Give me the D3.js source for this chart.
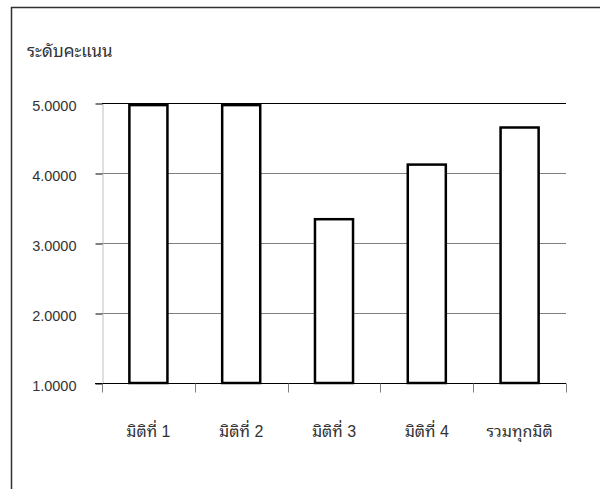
<!DOCTYPE html>
<html><head><meta charset="utf-8">
<script src="https://cdn.jsdelivr.net/npm/d3@7"></script>
<style>
html,body{margin:0;padding:0;background:#fff;}
svg{display:block;font-family:"Liberation Sans",Arial,"Noto Sans Thai Looped","Noto Sans Thai",Loma,Garuda,sans-serif;}
</style></head>
<body>
<svg id="chart" width="600" height="489"></svg>
<script>
const categories = ["มิติที่ 1", "มิติที่ 2", "มิติที่ 3", "มิติที่ 4", "รวมทุกมิติ"];
const scores = [4.97, 4.97, 3.34, 4.12, 4.65];
const yTicks = [1, 2, 3, 4, 5];
const yTitle = "ระดับคะแนน";

(function () {
const svg = d3.select("#chart");
const mLeft = 102, mRight = 566, mTop = 103, mBottom = 383;

// outer border
svg.append("rect").attr("x", 11.5).attr("y", 7.5).attr("width", 640).attr("height", 520)
  .attr("fill", "none").attr("stroke", "#303030").attr("stroke-width", 1.5);

const x = d3.scaleBand().domain(categories).range([mLeft, mRight])
  .paddingInner(0.59).paddingOuter(0.295);
const xb = d3.scaleBand().domain(categories).range([mLeft, mRight]).padding(0);
const y = d3.scaleLinear().domain([1, 5]).range([mBottom, mTop]);

// gridlines
svg.append("g").selectAll("line").data(yTicks.filter(t => t > 1)).join("line")
  .attr("x1", mLeft).attr("x2", mRight)
  .attr("y1", d => Math.round(y(d)) + 0.5).attr("y2", d => Math.round(y(d)) + 0.5)
  .attr("stroke", d => d === 5 ? "#000" : "#7f7f7f").attr("stroke-width", 1);

// y axis
const yAxis = svg.append("g").attr("transform", `translate(${mLeft + 0.5},0.5)`)
  .call(d3.axisLeft(y).tickValues(yTicks).tickFormat(d3.format(".4f")).tickSize(7).tickSizeOuter(0));
yAxis.attr("font-family", null).attr("font-size", null);
yAxis.select(".domain").attr("stroke", "#c0c0c0");
yAxis.selectAll(".tick line").attr("stroke", "#000");
yAxis.selectAll(".tick text").attr("x", -26).attr("dy", "0.45em")
  .attr("font-size", 14.5).attr("fill", "#333");

// bars
svg.append("g").selectAll("rect").data(scores).join("rect")
  .attr("x", (d, i) => x(categories[i]))
  .attr("width", x.bandwidth())
  .attr("y", d => y(d))
  .attr("height", d => y(1) - y(d))
  .attr("fill", "#fff").attr("stroke", "#000").attr("stroke-width", 2.5);

// x axis
const xAxisG = svg.append("g").attr("transform", `translate(0,${mBottom + 0.5})`);
xAxisG.append("line").attr("x1", mLeft - 7).attr("x2", mRight).attr("stroke", "#000");
xAxisG.selectAll("line.tk").data(categories.concat(["_end"])).join("line").attr("class", "tk")
  .attr("x1", (d, i) => Math.round(mLeft + i * xb.step()) + 0.5)
  .attr("x2", (d, i) => Math.round(mLeft + i * xb.step()) + 0.5)
  .attr("y1", 0).attr("y2", 9).attr("stroke", "#808080");
xAxisG.selectAll("text").data(categories).join("text")
  .attr("x", d => xb(d) + xb.bandwidth() / 2)
  .attr("y", 53).attr("text-anchor", "middle")
  .attr("font-size", 16).attr("fill", "#333").text(d => d);

// y title
svg.append("text").attr("x", 27).attr("y", 57).attr("font-size", 17).attr("fill", "#333").text(yTitle);
})();
</script>
</body></html>
